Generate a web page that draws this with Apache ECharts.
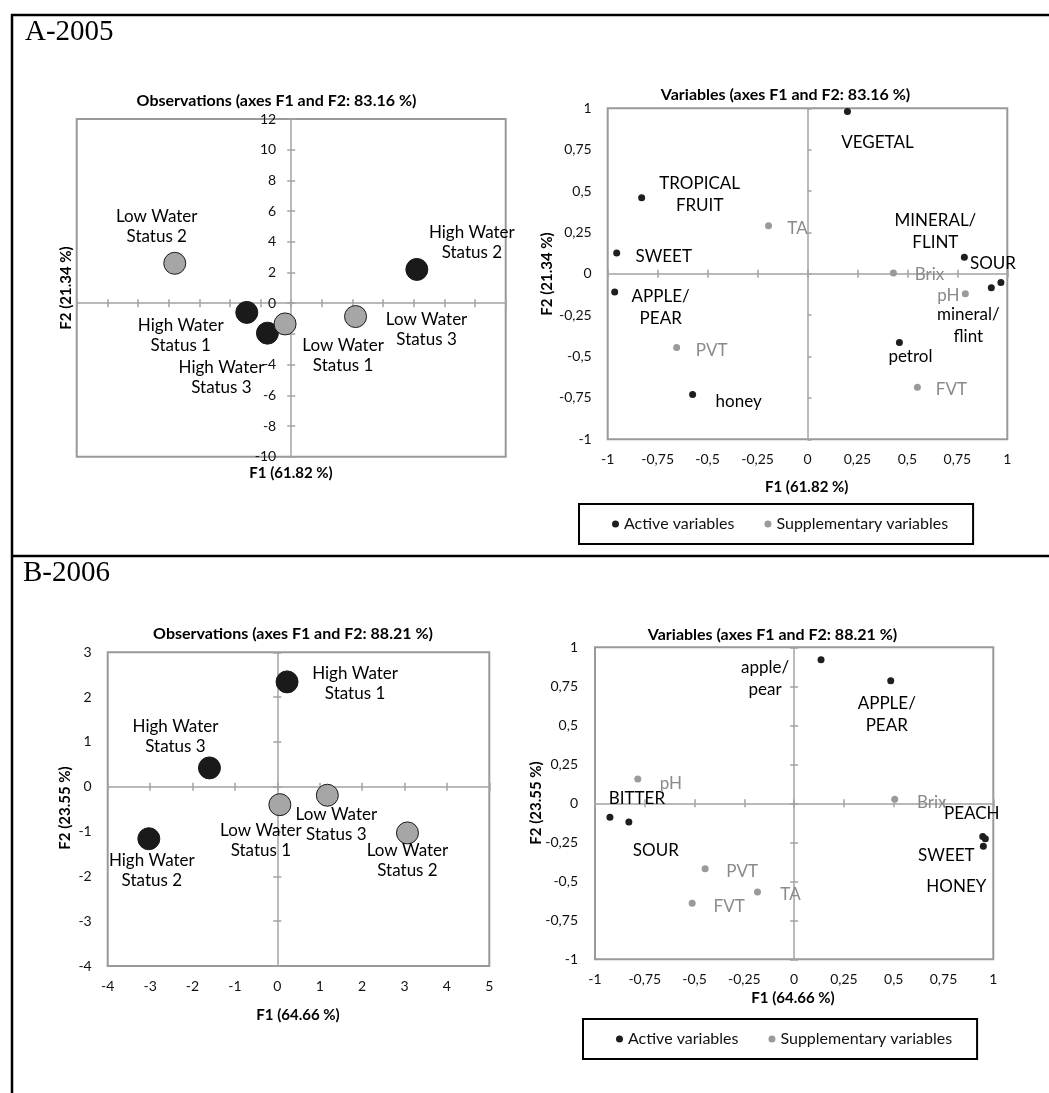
<!DOCTYPE html>
<html><head><meta charset="utf-8">
<script src="https://cdn.jsdelivr.net/npm/echarts@6/dist/echarts.min.js"></script>
<style>html,body{margin:0;padding:0;background:#fff}#c{width:1049px;height:1093px}</style>
</head><body><div id="c"></div>
<script>
// ================= DATA =================
// A-2005 observations
const obs2005Names  = ['Low Water Status 2','High Water Status 2','High Water Status 1','High Water Status 3','Low Water Status 1','Low Water Status 3'];
const obs2005F1     = [-7.6, 8.2, -2.9, -1.55, -0.4, 4.2];
const obs2005F2     = [2.6, 2.2, -0.6, -1.95, -1.35, -0.87];
const obs2005Status = ['Low','High','High','High','Low','Low'];
const obs2005XTicks = [-14,-12,-10,-8,-6,-4,-2,0,2,4,6,8,10,12,14];
const obs2005YTicks = [-10,-8,-6,-4,-2,0,2,4,6,8,10,12];

// A-2005 variables
const var2005ActiveNames = ['VEGETAL','TROPICAL FRUIT','SWEET','APPLE/PEAR','honey','petrol','MINERAL/FLINT','SOUR','mineral/flint'];
const var2005ActiveF1    = [0.20, -0.83, -0.955, -0.965, -0.575, 0.46, 0.785, 0.968, 0.92];
const var2005ActiveF2    = [0.98, 0.46, 0.125, -0.11, -0.73, -0.415, 0.10, -0.052, -0.085];
const var2005SuppNames   = ['TA','Brix','pH','PVT','FVT'];
const var2005SuppF1      = [-0.195, 0.43, 0.79, -0.655, 0.55];
const var2005SuppF2      = [0.29, 0.005, -0.12, -0.445, -0.685];

// B-2006 observations
const obs2006Names  = ['High Water Status 1','High Water Status 3','High Water Status 2','Low Water Status 1','Low Water Status 3','Low Water Status 2'];
const obs2006F1     = [0.23, -1.6, -3.03, 0.06, 1.18, 3.07];
const obs2006F2     = [2.34, 0.42, -1.16, -0.40, -0.19, -1.03];
const obs2006Status = ['High','High','High','Low','Low','Low'];
const obs2006XTicks = [-4,-3,-2,-1,0,1,2,3,4,5];
const obs2006YTicks = [-4,-3,-2,-1,0,1,2,3];

// B-2006 variables
const var2006ActiveNames = ['apple/pear','APPLE/PEAR','BITTER','SOUR','PEACH','SWEET','HONEY'];
const var2006ActiveF1    = [0.135, 0.485, -0.925, -0.83, 0.947, 0.96, 0.95];
const var2006ActiveF2    = [0.92, 0.785, -0.09, -0.12, -0.213, -0.228, -0.276];
const var2006SuppNames   = ['pH','Brix','PVT','TA','FVT'];
const var2006SuppF1      = [-0.785, 0.505, -0.447, -0.184, -0.512];
const var2006SuppF2      = [0.155, 0.026, -0.42, -0.568, -0.64];

const varTicks = [-1,-0.75,-0.5,-0.25,0,0.25,0.5,0.75,1];

const titles = {
  obs2005: 'Observations (axes F1 and F2: 83.16 %)',
  var2005: 'Variables (axes F1 and F2: 83.16 %)',
  obs2006: 'Observations (axes F1 and F2: 88.21 %)',
  var2006: 'Variables (axes F1 and F2: 88.21 %)',
  f1_2005: 'F1 (61.82 %)', f2_2005: 'F2 (21.34 %)',
  f1_2006: 'F1 (64.66 %)', f2_2006: 'F2 (23.55 %)'
};
const legendNames = ['Active variables','Supplementary variables'];

// ================= LAYOUT (label offsets in px) =================
const obs2005Offsets = [[-18,-37],[55,-26.5],[-66,23],[-46,44],[58,31.5],[71,13]];
const var2005ActiveOffsets = [[30,31],[58,-3.5],[47,3],[46,16],[46,7],[11,14],[-29,-25.5],[-8,-19],[-23,37.5]];
const var2005SuppOffsets = [[29,3],[36,2],[-17,2],[35,3],[34,2]];
const obs2006Offsets = [[68,2],[-34,-31],[3,31.5],[-19,35.5],[9,29],[0,28]];
const var2006ActiveOffsets = [[-56,18.5],[-4,34],[27,-19],[27,28],[-11,-23],[-39,17],[-27,40]];
const var2006SuppOffsets = [[33,4],[37,3],[37,3],[33,3],[37,3]];

const FONT = 'Lato, "Open Sans", sans-serif';
const AXIS_COLOR = '#a3a3a3';
const BORDER_COLOR = '#999';
const TEXT = '#000';
const SUPP_TEXT = '#8a8a8a';

function wrap(n) {
  return n.replace(' Status', '\nStatus').replace('/', '/\n').replace('TROPICAL ', 'TROPICAL\n');
}
function fmt(v) { return String(Math.round(v * 100) / 100).replace('.', ','); }

function axis(gridIndex, ticks, extra) {
  const base = {
    type: 'value', gridIndex,
    min: ticks[0], max: ticks[ticks.length - 1], interval: ticks[1] - ticks[0],
    splitLine: { show: false },
    axisLine: { show: false, onZero: false },
    axisTick: { show: false },
    axisLabel: { show: false }
  };
  return Object.assign(base, extra);
}
const lineStyle = { color: AXIS_COLOR, width: 1.5 };
const tickOut = { show: true, inside: false, length: 4, lineStyle: { color: AXIS_COLOR, width: 1.5 } };
const tickIn  = { show: true, inside: true,  length: 4, lineStyle: { color: AXIS_COLOR, width: 1.5 } };
const labelStyle = (margin) => ({ show: true, margin, color: '#111', fontFamily: FONT, fontSize: 14, formatter: fmt, showMinLabel: true, showMaxLabel: true, hideOverlap: false });

const grids = [
  { left: 76.7, top: 119, width: 429, height: 337.7 },
  { left: 607.7, top: 108.3, width: 399.6, height: 331 },
  { left: 107.7, top: 652.3, width: 381.6, height: 313.7 },
  { left: 595, top: 647.3, width: 398.3, height: 312 }
].map(g => Object.assign(g, { show: true, borderColor: BORDER_COLOR, borderWidth: 2, backgroundColor: 'transparent', containLabel: false, outerBoundsMode: 'none' }));

// offset that moves a left y axis onto x = 0 of grid 0
const g0ZeroOffset = -grids[0].width * (0 - obs2005XTicks[0]) / (obs2005XTicks[obs2005XTicks.length - 1] - obs2005XTicks[0]);

const xAxes = [], yAxes = [];
// grid 0 : labels on the zero line
xAxes.push(axis(0, obs2005XTicks, { position: 'bottom', axisLine: { show: true, onZero: true, lineStyle }, axisTick: tickOut }));   // 0
xAxes.push(axis(0, obs2005XTicks, { position: 'bottom', axisLine: { show: false, onZero: true }, axisTick: tickIn }));              // 1
yAxes.push(axis(0, obs2005YTicks, { position: 'left', offset: g0ZeroOffset, axisLine: { show: true, onZero: false, lineStyle }, axisTick: tickOut, axisLabel: labelStyle(15) })); // 0
yAxes.push(axis(0, obs2005YTicks, { position: 'left', offset: g0ZeroOffset, axisLine: { show: false, onZero: false }, axisTick: tickIn })); // 1

function edgeLabelled(gi, xt, yt, xMargin, yMargin, yInsideOnly) {
  const xi = xAxes.length, yi = yAxes.length;
  xAxes.push(axis(gi, xt, { position: 'bottom', axisLabel: labelStyle(xMargin) }));
  xAxes.push(axis(gi, xt, { position: 'bottom', axisLine: { show: true, onZero: true, lineStyle }, axisTick: tickOut }));
  xAxes.push(axis(gi, xt, { position: 'bottom', axisLine: { show: false, onZero: true }, axisTick: tickIn }));
  yAxes.push(axis(gi, yt, { position: 'left', axisLabel: labelStyle(yMargin) }));
  yAxes.push(axis(gi, yt, { position: 'left', axisLine: { show: true, onZero: true, lineStyle }, axisTick: yInsideOnly ? tickIn : tickOut }));
  if (!yInsideOnly) yAxes.push(axis(gi, yt, { position: 'left', axisLine: { show: false, onZero: true }, axisTick: tickIn }));
  return { xi, yi };
}
const a1 = edgeLabelled(1, varTicks, varTicks, 13, 16, true);
const a2 = edgeLabelled(2, obs2006XTicks, obs2006YTicks, 13, 16, false);
const a3 = edgeLabelled(3, varTicks, varTicks, 13, 17, false);

function obsSeries(xi, yi, names, f1, f2, status, offs) {
  return {
    type: 'scatter', xAxisIndex: xi, yAxisIndex: yi, symbolSize: 22, z: 5,
    data: names.map((n, i) => ({
      name: n, value: [f1[i], f2[i]],
      itemStyle: status[i] === 'High'
        ? { color: '#1a1a1a', borderColor: '#1a1a1a', borderWidth: 1, opacity: 1 }
        : { color: '#a6a6a6', borderColor: '#1a1a1a', borderWidth: 1, opacity: 1 },
      label: { offset: offs[i] }
    })),
    label: { show: true, position: 'inside', formatter: p => wrap(p.name), color: TEXT, fontFamily: FONT, fontSize: 17, lineHeight: 20, align: 'center' }
  };
}
function varSeries(xi, yi, seriesName, names, f1, f2, offs, color, textColor) {
  return {
    type: 'scatter', name: seriesName, xAxisIndex: xi, yAxisIndex: yi, symbolSize: 7, z: 5,
    itemStyle: { color, opacity: 1 },
    data: names.map((n, i) => ({ name: n, value: [f1[i], f2[i]], label: { offset: offs[i] } })),
    label: { show: true, position: 'inside', formatter: p => wrap(p.name), color: textColor, fontFamily: FONT, fontSize: 17, lineHeight: 22, align: 'center' }
  };
}

const series = [
  obsSeries(0, 0, obs2005Names, obs2005F1, obs2005F2, obs2005Status, obs2005Offsets),
  varSeries(a1.xi, a1.yi, legendNames[0], var2005ActiveNames, var2005ActiveF1, var2005ActiveF2, var2005ActiveOffsets, '#1e1e1e', TEXT),
  varSeries(a1.xi, a1.yi, legendNames[1], var2005SuppNames, var2005SuppF1, var2005SuppF2, var2005SuppOffsets, '#9a9a9a', SUPP_TEXT),
  obsSeries(a2.xi, a2.yi, obs2006Names, obs2006F1, obs2006F2, obs2006Status, obs2006Offsets),
  varSeries(a3.xi, a3.yi, legendNames[0], var2006ActiveNames, var2006ActiveF1, var2006ActiveF2, var2006ActiveOffsets, '#1e1e1e', TEXT),
  varSeries(a3.xi, a3.yi, legendNames[1], var2006SuppNames, var2006SuppF1, var2006SuppF2, var2006SuppOffsets, '#9a9a9a', SUPP_TEXT)
];

function txt(text, x, y, opts) {
  opts = opts || {};
  return {
    type: 'text', x, y, rotation: opts.rotation || 0, z: 10,
    style: {
      text, fill: opts.fill || TEXT,
      font: opts.font || ('bold 15px ' + FONT),
      align: opts.align || 'center', textAlign: opts.align || 'center',
      verticalAlign: opts.va || 'middle', textVerticalAlign: opts.va || 'middle'
    }
  };
}
const TITLE_FONT = 'bold 16px ' + FONT;
const graphic = [
  { type: 'line', shape: { x1: 11, y1: 15, x2: 1049, y2: 15 }, style: { stroke: '#000', lineWidth: 2.5 } },
  { type: 'line', shape: { x1: 12, y1: 14, x2: 12, y2: 1093 }, style: { stroke: '#000', lineWidth: 2.5 } },
  { type: 'line', shape: { x1: 11, y1: 556, x2: 1049, y2: 556 }, style: { stroke: '#000', lineWidth: 2.5 } },
  txt('A-2005', 25, 47, { font: '29px "Liberation Serif", "Times New Roman", serif', fill: '#000', align: 'left', va: 'bottom' }),
  txt('B-2006', 23, 588, { font: '29px "Liberation Serif", "Times New Roman", serif', fill: '#000', align: 'left', va: 'bottom' }),
  txt(titles.obs2005, 276.5, 101, { font: TITLE_FONT }),
  txt(titles.var2005, 785.5, 95, { font: TITLE_FONT }),
  txt(titles.obs2006, 293, 634, { font: TITLE_FONT }),
  txt(titles.var2006, 772.5, 635, { font: TITLE_FONT }),
  txt(titles.f1_2005, 291, 473),
  txt(titles.f2_2005, 66, 288, { rotation: Math.PI / 2 }),
  txt(titles.f1_2005, 806.7, 487),
  txt(titles.f2_2005, 547, 274, { rotation: Math.PI / 2 }),
  txt(titles.f1_2006, 298, 1015),
  txt(titles.f2_2006, 65, 808, { rotation: Math.PI / 2 }),
  txt(titles.f1_2006, 793, 998),
  txt(titles.f2_2006, 536, 803, { rotation: Math.PI / 2 })
];

const legendBase = {
  data: legendNames, icon: 'circle', itemWidth: 7, itemHeight: 7, itemGap: 30,
  borderColor: '#000', borderWidth: 2, padding: [12, 25, 12, 33],
  textStyle: { fontFamily: FONT, fontSize: 16, color: '#111' }, selectedMode: false
};
const legend = [
  Object.assign({}, legendBase, { left: 579, top: 504 }),
  Object.assign({}, legendBase, { left: 583, top: 1019 })
];

const chart = echarts.init(document.getElementById('c'), null, { renderer: 'canvas' });
chart.setOption({
  animation: false, backgroundColor: '#fff',
  grid: grids, xAxis: xAxes, yAxis: yAxes, series, graphic, legend
});
</script></body></html>
